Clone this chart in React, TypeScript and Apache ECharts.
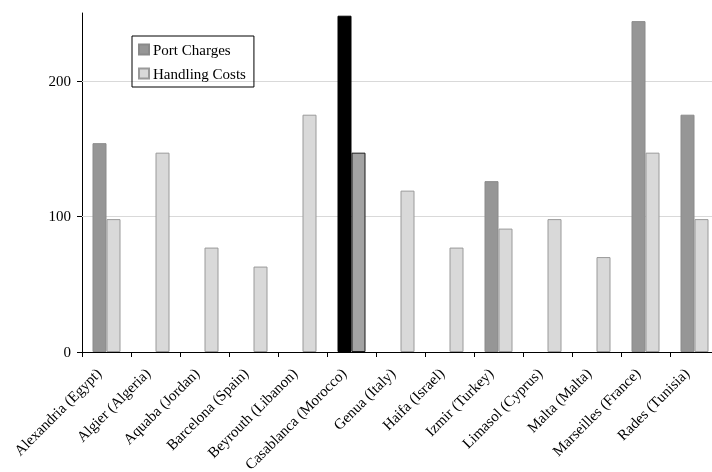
import React, { useEffect, useRef } from "react";
import * as echarts from "echarts";

const categories = [
  "Alexandria (Egypt)",
  "Algier (Algeria)",
  "Aquaba (Jordan)",
  "Barcelona (Spain)",
  "Beyrouth (Libanon)",
  "Casablanca (Morocco)",
  "Genua (Italy)",
  "Haifa (Israel)",
  "Izmir (Turkey)",
  "Limasol (Cyprus)",
  "Malta (Malta)",
  "Marseilles (France)",
  "Rades (Tunisia)",
];
const portCharges: (number | null)[] = [154, null, null, null, null, 248, null, null, 126, null, null, 244, 175];
const handlingCosts: number[] = [98, 147, 77, 63, 175, 147, 119, 77, 91, 98, 70, 147, 98];
const gridValues = [100, 200];
const highlightIndex = 5;

const FONT = "'Liberation Serif', 'Times New Roman', serif";

export default function App() {
  const ref = useRef<HTMLDivElement>(null);
  useEffect(() => {
    if (!ref.current) return;
    const chart = echarts.init(ref.current, null, { renderer: "svg" });
    const portData = portCharges.map((v, i) =>
      i === highlightIndex
        ? { value: v, itemStyle: { color: "#000000", borderColor: "#000000" } }
        : v
    );
    const handlingData = handlingCosts.map((v, i) =>
      i === highlightIndex
        ? { value: v, itemStyle: { color: "#a3a3a3", borderColor: "#1a1a1a" } }
        : v
    );
    chart.setOption({
      animation: false,
      textStyle: { fontFamily: FONT },
      grid: { left: 82, top: 13, width: 637, height: 339, containLabel: false, outerBoundsMode: "none" },
      legend: {
        orient: "vertical",
        left: 132,
        top: 36,
        padding: [6, 8, 6, 6],
        itemGap: 9,
        itemWidth: 10,
        itemHeight: 10,
        borderColor: "#000",
        borderWidth: 1,
        icon: "rect",
        textStyle: { fontFamily: FONT, fontSize: 15, color: "#000", padding: [0, 0, 0, -1] },
        data: ["Port Charges", "Handling Costs"],
      },
      xAxis: {
        type: "category",
        data: categories,
        boundaryGap: true,
        axisLine: { lineStyle: { color: "#000", width: 1 } },
        axisTick: { show: true, length: 5, lineStyle: { color: "#000" } },
        axisLabel: {
          rotate: 45,
          interval: 0,
          fontFamily: FONT,
          fontSize: 15,
          color: "#000",
          margin: 11,
          padding: [0, 11, 0, 0],
        },
      },
      yAxis: {
        type: "value",
        min: 0,
        max: 250,
        interval: 100,
        axisLine: { show: true, lineStyle: { color: "#000", width: 1 } },
        axisTick: { show: true, length: 5, lineStyle: { color: "#000" } },
        splitLine: { show: false },
        axisLabel: {
          fontFamily: FONT,
          fontSize: 15,
          color: "#000",
          margin: 11,
          showMaxLabel: false,
          formatter: (v: number) => (v % 100 === 0 ? String(v) : ""),
        },
      },
      series: [
        {
          name: "Port Charges",
          type: "bar",
          data: portData,
          barWidth: 14,
          barGap: "0%",
          z: 3,
          itemStyle: { color: "#969696", borderColor: "#8a8a8a", borderWidth: 1 },
        },
        {
          name: "Handling Costs",
          type: "bar",
          data: handlingData,
          barWidth: 14,
          barGap: "0%",
          z: 3,
          itemStyle: { color: "#d9d9d9", borderColor: "#9a9a9a", borderWidth: 1 },
          markLine: {
            silent: true,
            z: 1,
            symbol: "none",
            label: { show: false },
            lineStyle: { color: "#d9d9d9", type: "solid", width: 1 },
            data: gridValues.map((v) => ({ yAxis: v })),
          },
        },
      ],
    });
    return () => chart.dispose();
  }, []);
  return (
    <div
      ref={ref}
      style={{ position: "fixed", left: 0, top: 0, width: 712, height: 472 }}
    />
  );
}
